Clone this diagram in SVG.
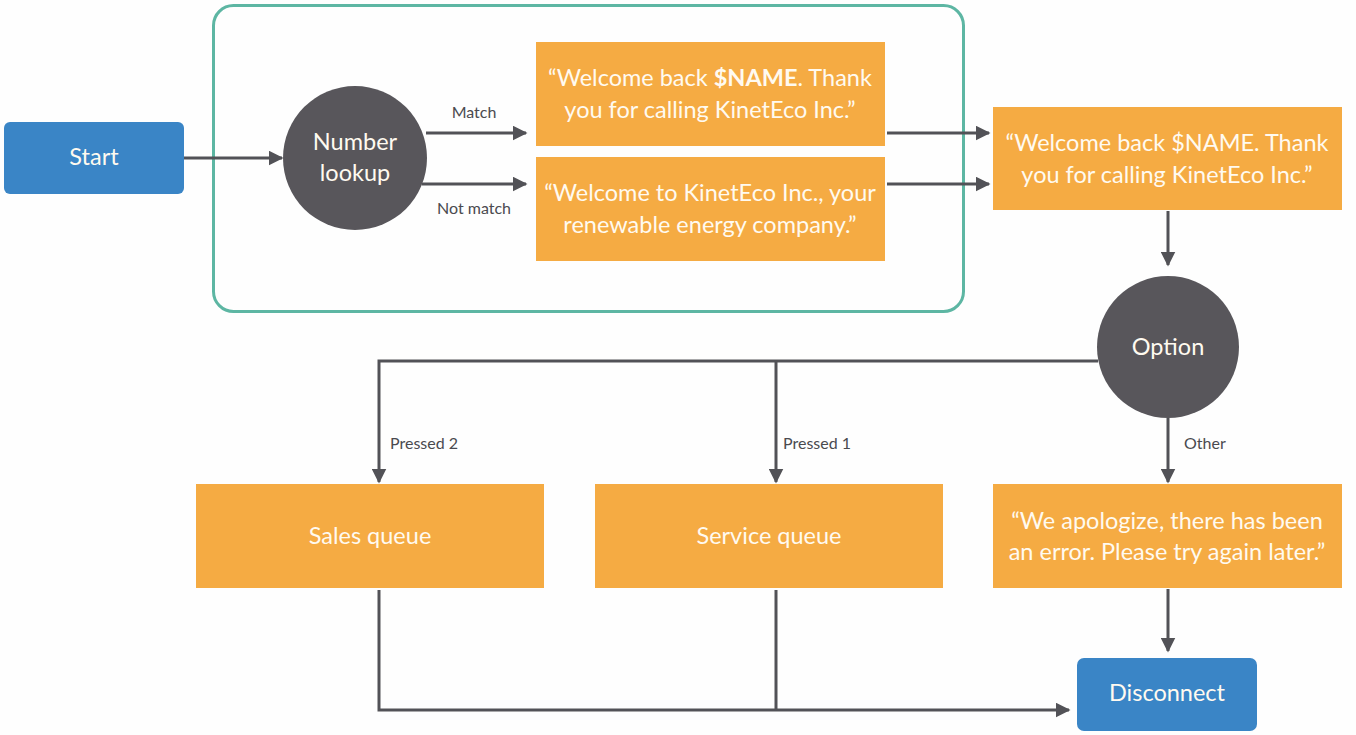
<svg xmlns="http://www.w3.org/2000/svg" width="1356" height="735" viewBox="0 0 1356 735">
<style>
.bg{fill:#fefefe}
.blue{fill:#3a85c6}
.orange{fill:#f5ab43}
.circ{fill:#58565b}
.t{font-family:Lato,"Noto Sans",sans-serif;fill:#fffaf0;text-anchor:middle}
.big{font-size:23.5px}
.lbl{font-family:Lato,"Noto Sans",sans-serif;font-size:16px;fill:#4a4a4f}
.c{stroke:#525257;stroke-width:3;fill:none}
</style>
<defs>
<marker id="ah" viewBox="0 0 10 10" refX="9" refY="5" markerWidth="5" markerHeight="5" orient="auto" markerUnits="strokeWidth">
<path d="M0,0 L10,5 L0,10 z" fill="#525257"/>
</marker>
</defs>
<rect class="bg" x="0" y="0" width="1356" height="735"/>
<rect x="213.5" y="5.5" width="750" height="306" rx="20" fill="none" stroke="#5db6a3" stroke-width="3"/>
<g id="connectors">
<path class="c" d="M184,158 H282" marker-end="url(#ah)"/>
<path class="c" d="M426,133 H526" marker-end="url(#ah)"/>
<path class="c" d="M422,184 H526" marker-end="url(#ah)"/>
<path class="c" d="M887,133 H989" marker-end="url(#ah)"/>
<path class="c" d="M887,184 H989" marker-end="url(#ah)"/>
<path class="c" d="M1168,211 V265" marker-end="url(#ah)"/>
<path class="c" d="M1098,361 H379 V482" marker-end="url(#ah)"/>
<path class="c" d="M776,361 V482" marker-end="url(#ah)"/>
<path class="c" d="M1168,418 V482" marker-end="url(#ah)"/>
<path class="c" d="M1168,589 V651" marker-end="url(#ah)"/>
<path class="c" d="M379,590 V710 H1069" marker-end="url(#ah)"/>
<path class="c" d="M776,590 V710"/>
<text class="lbl" x="474" y="118" text-anchor="middle">Match</text>
<text class="lbl" x="474" y="214" text-anchor="middle">Not match</text>
<text class="lbl" x="390" y="449">Pressed 2</text>
<text class="lbl" x="783" y="449">Pressed 1</text>
<text class="lbl" x="1184" y="449">Other</text>
</g>
<g id="start">
<rect class="blue" x="4" y="122" width="180" height="72" rx="6"/>
<text class="t big" x="94" y="165">Start</text>
</g>
<g id="lookup">
<circle class="circ" cx="355" cy="158" r="72"/>
<text class="t big" x="355" y="150">Number</text>
<text class="t big" x="355" y="181">lookup</text>
</g>
<g id="welcome-back">
<rect class="orange" x="536" y="42" width="349" height="104"/>
<text class="t big" x="710" y="86">“Welcome back <tspan font-weight="bold">$NAME</tspan>. Thank</text>
<text class="t big" x="710" y="118">you for calling KinetEco Inc.”</text>
</g>
<g id="welcome-new">
<rect class="orange" x="536" y="157" width="349" height="104"/>
<text class="t big" x="710" y="201">“Welcome to KinetEco Inc., your</text>
<text class="t big" x="710" y="233">renewable energy company.”</text>
</g>
<g id="welcome-merged">
<rect class="orange" x="993" y="107" width="349" height="103"/>
<text class="t big" x="1167" y="151">“Welcome back $NAME. Thank</text>
<text class="t big" x="1167" y="183">you for calling KinetEco Inc.”</text>
</g>
<g id="option">
<circle class="circ" cx="1168" cy="347" r="71"/>
<text class="t big" x="1168" y="355">Option</text>
</g>
<g id="sales">
<rect class="orange" x="196" y="484" width="348" height="104"/>
<text class="t big" x="370" y="544">Sales queue</text>
</g>
<g id="service">
<rect class="orange" x="595" y="484" width="348" height="104"/>
<text class="t big" x="769" y="544">Service queue</text>
</g>
<g id="error">
<rect class="orange" x="993" y="484" width="349" height="104"/>
<text class="t big" x="1167" y="529">“We apologize, there has been</text>
<text class="t big" x="1167" y="560">an error. Please try again later.”</text>
</g>
<g id="disconnect">
<rect class="blue" x="1077" y="658" width="180" height="73" rx="7"/>
<text class="t big" x="1167" y="701">Disconnect</text>
</g>
</svg>
